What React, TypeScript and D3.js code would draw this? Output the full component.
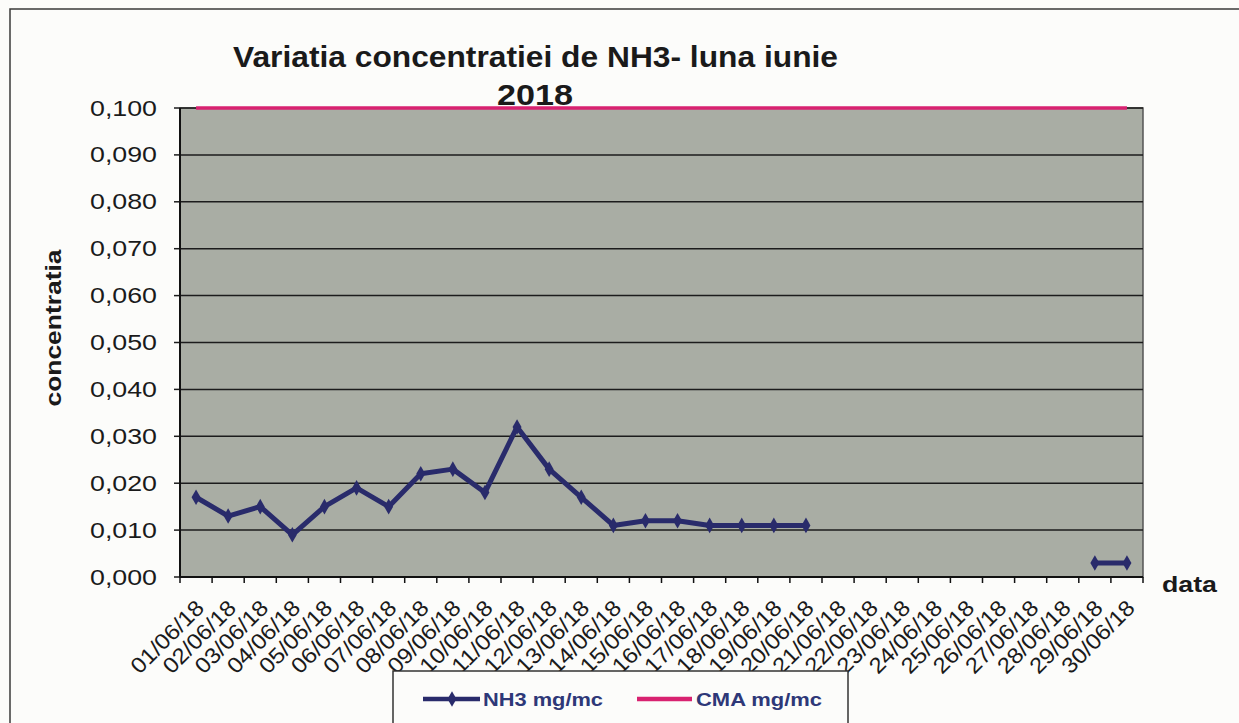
import React, { useEffect, useRef } from "react";
import * as d3 from "d3";

const dates = [
  "01/06/18", "02/06/18", "03/06/18", "04/06/18", "05/06/18", "06/06/18",
  "07/06/18", "08/06/18", "09/06/18", "10/06/18", "11/06/18", "12/06/18",
  "13/06/18", "14/06/18", "15/06/18", "16/06/18", "17/06/18", "18/06/18",
  "19/06/18", "20/06/18", "21/06/18", "22/06/18", "23/06/18", "24/06/18",
  "25/06/18", "26/06/18", "27/06/18", "28/06/18", "29/06/18", "30/06/18",
];
// NH3 mg/mc, null = no measurement
const nh3 = [
  0.017, 0.013, 0.015, 0.009, 0.015, 0.019, 0.015, 0.022, 0.023, 0.018,
  0.032, 0.023, 0.017, 0.011, 0.012, 0.012, 0.011, 0.011, 0.011, 0.011,
  null, null, null, null, null, null, null, null, 0.003, 0.003,
];
const cma = dates.map(() => 0.1);
const yTicks = [0, 0.01, 0.02, 0.03, 0.04, 0.05, 0.06, 0.07, 0.08, 0.09, 0.1];

const FONT = "'Liberation Sans', Arial, sans-serif";

const App = () => {
  const ref = useRef<SVGSVGElement>(null);

  useEffect(() => {
    const svg = d3.select(ref.current);
    svg.selectAll("*").remove();

    const plot = { left: 180, right: 1143, top: 108, bottom: 577 };
    const x = d3.scaleBand().domain(dates).range([plot.left, plot.right]).paddingInner(0).paddingOuter(0);
    const y = d3.scaleLinear().domain([0, 0.1]).range([plot.bottom, plot.top]);
    const cx = (d: string) => (x(d) as number) + x.bandwidth() / 2;
    const fmt = (v: number) => d3.format(".3f")(v).replace(".", ",");

    const navy = "#292b6b";
    const pink = "#d82270";
    const ink = "#1a1a1a";

    // page + outer frame
    svg.append("rect").attr("width", 1239).attr("height", 723).attr("fill", "#fcfcfa");
    svg.append("rect").attr("x", 10).attr("y", 9).attr("width", 1300).attr("height", 800)
      .attr("fill", "none").attr("stroke", "#3a3a3a").attr("stroke-width", 1.5);

    // title
    svg.append("text").attr("x", 233).attr("y", 67).attr("textLength", 605).attr("lengthAdjust", "spacingAndGlyphs")
      .style("font", `bold 30px ${FONT}`).attr("fill", ink)
      .text("Variatia concentratiei de NH3- luna iunie");
    svg.append("text").attr("x", 497).attr("y", 105).attr("textLength", 76).attr("lengthAdjust", "spacingAndGlyphs")
      .style("font", `bold 30px ${FONT}`).attr("fill", ink).text("2018");

    // plot background
    svg.append("rect").attr("x", plot.left).attr("y", plot.top)
      .attr("width", plot.right - plot.left).attr("height", plot.bottom - plot.top)
      .attr("fill", "#a9ada4").attr("stroke", "#555").attr("stroke-width", 1.5);

    // gridlines + y ticks + labels
    svg.append("g").selectAll("line").data(yTicks.slice(1)).join("line")
      .attr("x1", plot.left).attr("x2", plot.right)
      .attr("y1", d => y(d)).attr("y2", d => y(d))
      .attr("stroke", "#1c1c1c").attr("stroke-width", 1.5);
    svg.append("g").selectAll("line").data(yTicks).join("line")
      .attr("x1", plot.left - 6).attr("x2", plot.left)
      .attr("y1", d => y(d)).attr("y2", d => y(d))
      .attr("stroke", "#1c1c1c").attr("stroke-width", 1.5);
    svg.append("g").selectAll("text").data(yTicks).join("text")
      .attr("x", 157).attr("y", d => y(d)).attr("text-anchor", "end").attr("dominant-baseline", "central")
      .attr("textLength", 67).attr("lengthAdjust", "spacingAndGlyphs")
      .style("font", `22px ${FONT}`).attr("fill", ink).text(d => fmt(d));

    // axes lines
    svg.append("line").attr("x1", plot.left).attr("x2", plot.left).attr("y1", plot.top).attr("y2", plot.bottom)
      .attr("stroke", "#111").attr("stroke-width", 2);
    svg.append("line").attr("x1", plot.left).attr("x2", plot.right).attr("y1", plot.bottom).attr("y2", plot.bottom)
      .attr("stroke", "#111").attr("stroke-width", 2);

    // x ticks at category boundaries
    const bounds = dates.map(d => x(d) as number).concat([plot.right]);
    svg.append("g").selectAll("line").data(bounds).join("line")
      .attr("x1", d => d).attr("x2", d => d).attr("y1", plot.bottom).attr("y2", plot.bottom + 6)
      .attr("stroke", "#111").attr("stroke-width", 1.5);

    // x labels
    svg.append("g").selectAll("text").data(dates).join("text")
      .attr("transform", d => `translate(${cx(d) + 4},${604}) rotate(-45)`)
      .attr("text-anchor", "end").attr("dominant-baseline", "central")
      .attr("textLength", 93).attr("lengthAdjust", "spacingAndGlyphs")
      .style("font", `22px ${FONT}`).attr("fill", ink).text(d => d);

    // axis titles
    svg.append("text").attr("transform", "translate(53,328) rotate(-90)")
      .attr("text-anchor", "middle").attr("dominant-baseline", "central")
      .attr("textLength", 157).attr("lengthAdjust", "spacingAndGlyphs")
      .style("font", `bold 22px ${FONT}`).attr("fill", ink).text("concentratia");
    svg.append("text").attr("x", 1162).attr("y", 592).attr("textLength", 55).attr("lengthAdjust", "spacingAndGlyphs")
      .style("font", `bold 22px ${FONT}`).attr("fill", ink).text("data");

    // CMA line
    const cmaLine = d3.line<number>().x((_, i) => cx(dates[i])).y(d => y(d));
    svg.append("path").attr("d", cmaLine(cma)).attr("fill", "none").attr("stroke", pink).attr("stroke-width", 3.5);

    // NH3 line
    const nh3Line = d3.line<number | null>().defined(d => d !== null)
      .x((_, i) => cx(dates[i])).y(d => y(d as number));
    svg.append("path").attr("d", nh3Line(nh3)).attr("fill", "none").attr("stroke", navy)
      .attr("stroke-width", 5).attr("stroke-linejoin", "round");
    const diamond = d3.symbol().type(d3.symbolDiamond).size(70);
    svg.append("g").selectAll("path")
      .data(nh3.map((v, i) => ({ v, d: dates[i] })).filter(p => p.v !== null)).join("path")
      .attr("d", diamond).attr("transform", p => `translate(${cx(p.d)},${y(p.v as number)})`)
      .attr("fill", navy);

    // legend
    const lg = svg.append("g");
    lg.append("rect").attr("x", 393).attr("y", 671).attr("width", 455).attr("height", 100)
      .attr("fill", "#fcfcfa").attr("stroke", "#333").attr("stroke-width", 1.5);
    lg.append("line").attr("x1", 423).attr("x2", 480).attr("y1", 699).attr("y2", 699)
      .attr("stroke", navy).attr("stroke-width", 4.5);
    lg.append("path").attr("d", diamond).attr("transform", "translate(452,699)").attr("fill", navy);
    lg.append("text").attr("x", 483).attr("y", 706).attr("textLength", 120).attr("lengthAdjust", "spacingAndGlyphs")
      .style("font", `bold 19px ${FONT}`).attr("fill", "#2e3878").text("NH3 mg/mc");
    lg.append("line").attr("x1", 637).attr("x2", 692).attr("y1", 699).attr("y2", 699)
      .attr("stroke", pink).attr("stroke-width", 4.5);
    lg.append("text").attr("x", 696).attr("y", 706).attr("textLength", 126).attr("lengthAdjust", "spacingAndGlyphs")
      .style("font", `bold 19px ${FONT}`).attr("fill", "#2e3878").text("CMA mg/mc");
  }, []);

  return (
    <div style={{ position: "absolute", left: 0, top: 0 }}>
      <svg ref={ref} width={1239} height={723} style={{ display: "block" }}></svg>
    </div>
  );
};

export default App;
